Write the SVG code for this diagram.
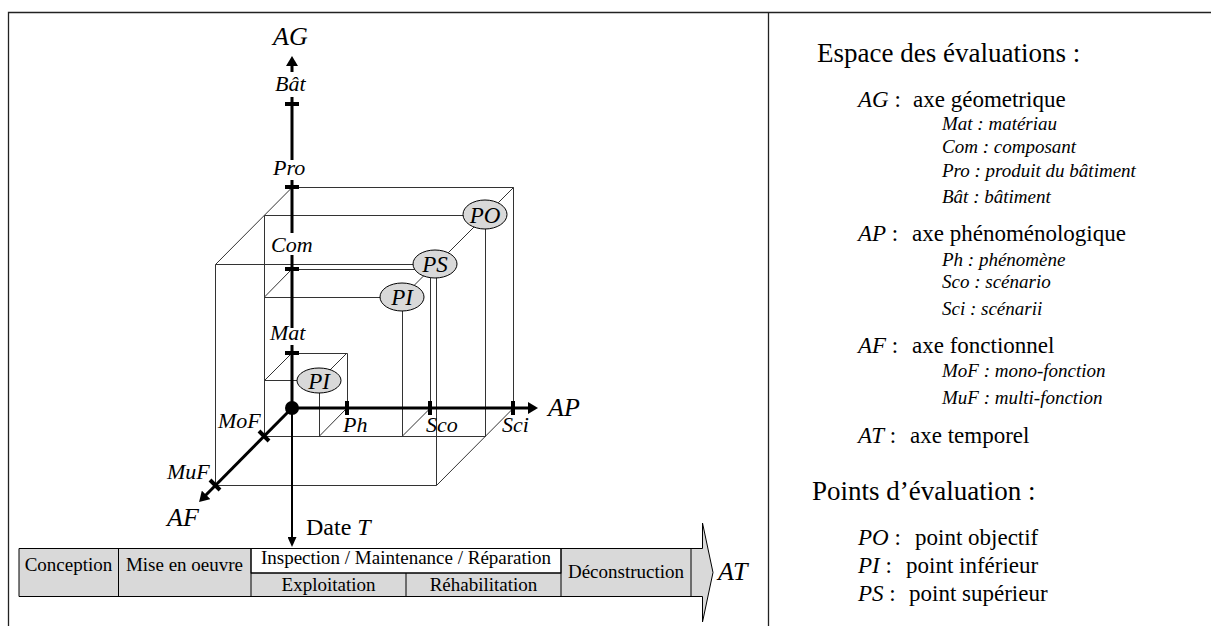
<svg xmlns="http://www.w3.org/2000/svg" width="1211" height="626" viewBox="0 0 1211 626">
<style>
.t{font-family:"Liberation Serif","Times New Roman",serif;fill:#000}
.i{font-style:italic}
.thin{stroke:#333;stroke-width:1;fill:none}
.axis{stroke:#000;stroke-width:3;fill:none}
.tick{stroke:#000;stroke-width:4}
.frame{stroke:#222;stroke-width:1.3;fill:none}
.pt{fill:#d9d9d9;stroke:#000;stroke-width:1}
.cell{fill:#d9d9d9;stroke:#000;stroke-width:1}
.ln{stroke:#000;stroke-width:1;fill:none}
.lab{font-size:22px}
.pl{font-size:23px;text-anchor:middle}
.big{font-size:26px}
.tab{font-size:19px;text-anchor:middle}
.h{font-size:27px}
.m{font-size:23px}
.s{font-size:19px}
</style>
<defs>
<marker id="ah" markerUnits="userSpaceOnUse" markerWidth="10" markerHeight="12" refX="2" refY="6" orient="auto">
<path d="M0,0 L10,6 L0,12 z" fill="#000"/>
</marker>
<marker id="ahs" markerUnits="userSpaceOnUse" markerWidth="10" markerHeight="9" refX="2" refY="4.5" orient="auto">
<path d="M0,0 L10,4.5 L0,9 z" fill="#000"/>
</marker>
</defs>
<g id="frame">
<path class="frame" d="M8.5,626 V12.5 H1211 M768.5,12.5 V626"/>
</g>
<g id="connectors">
<g id="cubes" class="thin">
<path d="M292,353.5 H347.5 V408 M264,380.5 H319.5 V436 M264.5,380.5 L292,353 M319.5,380.5 L347,353 M319.5,436 L347,408"/>
<path d="M292,269.5 H430.5 V408 M264,297.5 H402.5 V436 M264.5,297 L292,269 M402.5,297 L430.5,269 M402.5,436 L430.5,408"/>
<path d="M292,187.5 H513.5 V408 M264.5,215.5 H485.5 V436.5 H264.5 Z"/>
<path d="M215.5,264.5 H436.5 V485.5 H215.5 Z M215.5,264.5 L292,187.5 M436.5,264.5 L513.5,187.5 M436.5,485.5 L513.5,408"/>
</g>
<g id="axes">
<path class="axis" d="M292,72 V64" marker-end="url(#ah)"/>
<path class="axis" d="M292,97 V160 M292,180 V233 M292,255 V328 M292,345 V408"/>
<path class="axis" d="M292,408 H530" marker-end="url(#ah)"/>
<path class="axis" d="M292,408 L204.7,496.3" marker-end="url(#ah)"/>
<path class="ln" style="stroke-width:2" d="M292,408 V539" marker-end="url(#ahs)"/>
<path class="tick" d="M285,104 H299 M285,187 H299 M285,269 H299 M285,353 H299 M347,401 V415 M430,401 V415 M513,401 V415 M259,431 L269,441 M210,480 L220,490"/>
<circle cx="292" cy="408" r="7" fill="#000"/>
</g>
</g>
<g id="axis-labels" class="t">
<text class="big i" x="273" y="45">AG</text>
<text class="lab i" x="275" y="91">Bât</text>
<text class="lab i" x="273" y="175">Pro</text>
<text class="lab i" x="271" y="252">Com</text>
<text class="lab i" x="270" y="340">Mat</text>
<text class="big i" x="548" y="416">AP</text>
<text class="lab i" x="343" y="432">Ph</text>
<text class="lab i" x="426" y="432">Sco</text>
<text class="lab i" x="502" y="432">Sci</text>
<text class="lab i" x="218" y="428">MoF</text>
<text class="lab i" x="167" y="479">MuF</text>
<text class="big i" x="167" y="526">AF</text>
<text style="font-size:24px" x="306" y="535">Date <tspan class="i">T</tspan></text>
</g>
<g id="PO"><ellipse class="pt" cx="485" cy="214.5" rx="22" ry="14.5"/><text class="t pl i" x="485" y="222.5">PO</text></g>
<g id="PS"><ellipse class="pt" cx="435" cy="264" rx="22" ry="14"/><text class="t pl i" x="435" y="272">PS</text></g>
<g id="PI-com"><ellipse class="pt" cx="402" cy="297" rx="22" ry="14"/><text class="t pl i" x="402" y="305">PI</text></g>
<g id="PI-mat"><ellipse class="pt" cx="319" cy="380.5" rx="22" ry="12.5"/><text class="t pl i" x="319" y="388.5">PI</text></g>
<g id="timeline">
<path class="cell" d="M19,548.5 H702.5 V523 L713,572.5 L702.5,622 V596.5 H19 Z"/>
<rect x="251" y="548.5" width="310" height="24.5" fill="#fff" stroke="#000" stroke-width="1"/>
<path class="ln" d="M118.5,548.5 V596.5 M251,548.5 V596.5 M561,548.5 V596.5 M691,548.5 V596.5 M251,573 H561 M406,573 V596.5"/>
<g class="t">
<text class="tab" x="68.5" y="571">Conception</text>
<text class="tab" x="184.5" y="571">Mise en oeuvre</text>
<text class="tab" x="406" y="564">Inspection / Maintenance / Réparation</text>
<text class="tab" x="328.5" y="591">Exploitation</text>
<text class="tab" x="483.5" y="591">Réhabilitation</text>
<text class="tab" x="626" y="578">Déconstruction</text>
<text class="big i" x="718" y="580">AT</text>
</g>
</g>
<g id="legend" class="t">
<text class="h" x="817" y="62">Espace des évaluations :</text>
<text class="m" x="858" y="107"><tspan class="i">AG</tspan> :<tspan x="913">axe géometrique</tspan></text>
<text class="s i" x="942" y="130">Mat : matériau</text>
<text class="s i" x="942" y="153">Com : composant</text>
<text class="s i" x="942" y="177">Pro : produit du bâtiment</text>
<text class="s i" x="942" y="203">Bât : bâtiment</text>
<text class="m" x="858" y="241"><tspan class="i">AP</tspan> :<tspan x="912">axe phénoménologique</tspan></text>
<text class="s i" x="942" y="266">Ph : phénomène</text>
<text class="s i" x="942" y="288">Sco : scénario</text>
<text class="s i" x="942" y="315">Sci : scénarii</text>
<text class="m" x="858" y="353"><tspan class="i">AF</tspan> :<tspan x="912">axe fonctionnel</tspan></text>
<text class="s i" x="942" y="377">MoF : mono-fonction</text>
<text class="s i" x="942" y="404">MuF : multi-fonction</text>
<text class="m" x="858" y="443"><tspan class="i">AT</tspan> :<tspan x="910">axe temporel</tspan></text>
<text class="h" x="812" y="500">Points d’évaluation :</text>
<text class="m" x="858" y="545"><tspan class="i">PO</tspan> :<tspan x="915">point objectif</tspan></text>
<text class="m" x="858" y="573"><tspan class="i">PI</tspan> :<tspan x="906">point inférieur</tspan></text>
<text class="m" x="858" y="601"><tspan class="i">PS</tspan> :<tspan x="909">point supérieur</tspan></text>
</g>
</svg>
